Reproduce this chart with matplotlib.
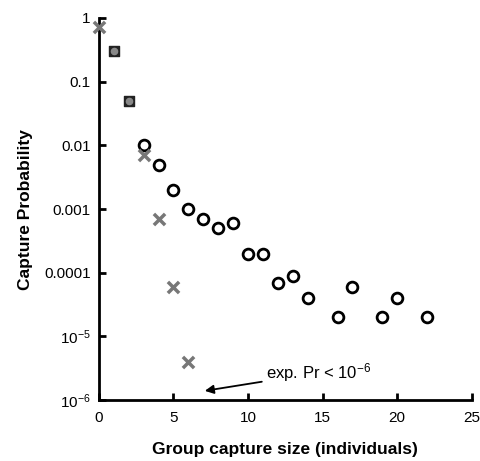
"""
Capture probability vs group capture size (observed vs expected).
"""

import matplotlib.pyplot as plt

plt.rcParams["font.family"] = ["Liberation Sans", "DejaVu Sans"]
plt.rcParams["mathtext.fontset"] = "custom"
plt.rcParams["mathtext.rm"] = "Liberation Sans"
plt.rcParams["mathtext.it"] = "Liberation Sans"

# Observed capture probabilities (open circles)
obs_size = [3, 4, 5, 6, 7, 8, 9, 10, 11, 12, 13, 14, 16, 17, 19, 20, 22]
obs_prob = [0.01, 0.005, 0.002, 0.001, 0.0007, 0.0005, 0.0006, 0.0002, 0.0002,
            7e-5, 9e-5, 4e-5, 2e-5, 6e-5, 2e-5, 4e-5, 2e-5]

# Expected capture probabilities (crosses)
exp_size = [0, 3, 4, 5, 6]
exp_prob = [0.72, 0.007, 0.0007, 6e-5, 4e-6]

# Points where observed and expected overlap
both_size = [1, 2]
both_prob = [0.3, 0.05]

y_ticks = [1, 0.1, 0.01, 0.001, 0.0001, 1e-5, 1e-6]
y_labels = ["1", "0.1", "0.01", "0.001", "0.0001", r"10$^{-5}$", r"10$^{-6}$"]
x_ticks = [0, 5, 10, 15, 20, 25]

fig = plt.figure(figsize=(4.8, 4.61), dpi=100)
ax = fig.add_axes([0.206, 0.132, 0.777, 0.829])

ax.scatter(both_size, both_prob, marker="s", s=55, color="#222222", zorder=3)
ax.scatter(both_size, both_prob, marker="o", s=20, color="#888888", zorder=4)
ax.scatter(obs_size, obs_prob, marker="o", s=60, facecolor="white",
           edgecolor="black", linewidth=2, zorder=3)
ax.scatter(exp_size, exp_prob, marker="x", s=65, color="#777777",
           linewidth=2.5, zorder=5, clip_on=False)

ax.annotate(r"exp. Pr < 10$^{-6}$", xy=(7.1, 1.4e-6), xytext=(11.2, 2.7e-6),
            fontsize=12, va="center", ha="left",
            arrowprops=dict(arrowstyle="-|>", color="black", lw=1.3,
                            shrinkA=1, shrinkB=0, mutation_scale=13))

ax.set_yscale("log")
ax.set_xlim(0, 25)
ax.set_ylim(1e-6, 1)
ax.set_yticks(y_ticks)
ax.set_yticklabels(y_labels)
ax.minorticks_off()
ax.set_xticks(x_ticks)

for side in ["top", "right"]:
    ax.spines[side].set_visible(False)
for side in ["left", "bottom"]:
    ax.spines[side].set_linewidth(2)

ax.tick_params(direction="in", length=5, width=2, labelsize=11)
ax.tick_params(axis="x", pad=8)
ax.tick_params(axis="y", pad=6)

ax.set_xlabel("Group capture size (individuals)", fontsize=12.5, fontweight="bold",
              labelpad=12)
ax.set_ylabel("Capture Probability", fontsize=12.5, fontweight="bold", labelpad=8)

plt.savefig("out.png", dpi=100)
